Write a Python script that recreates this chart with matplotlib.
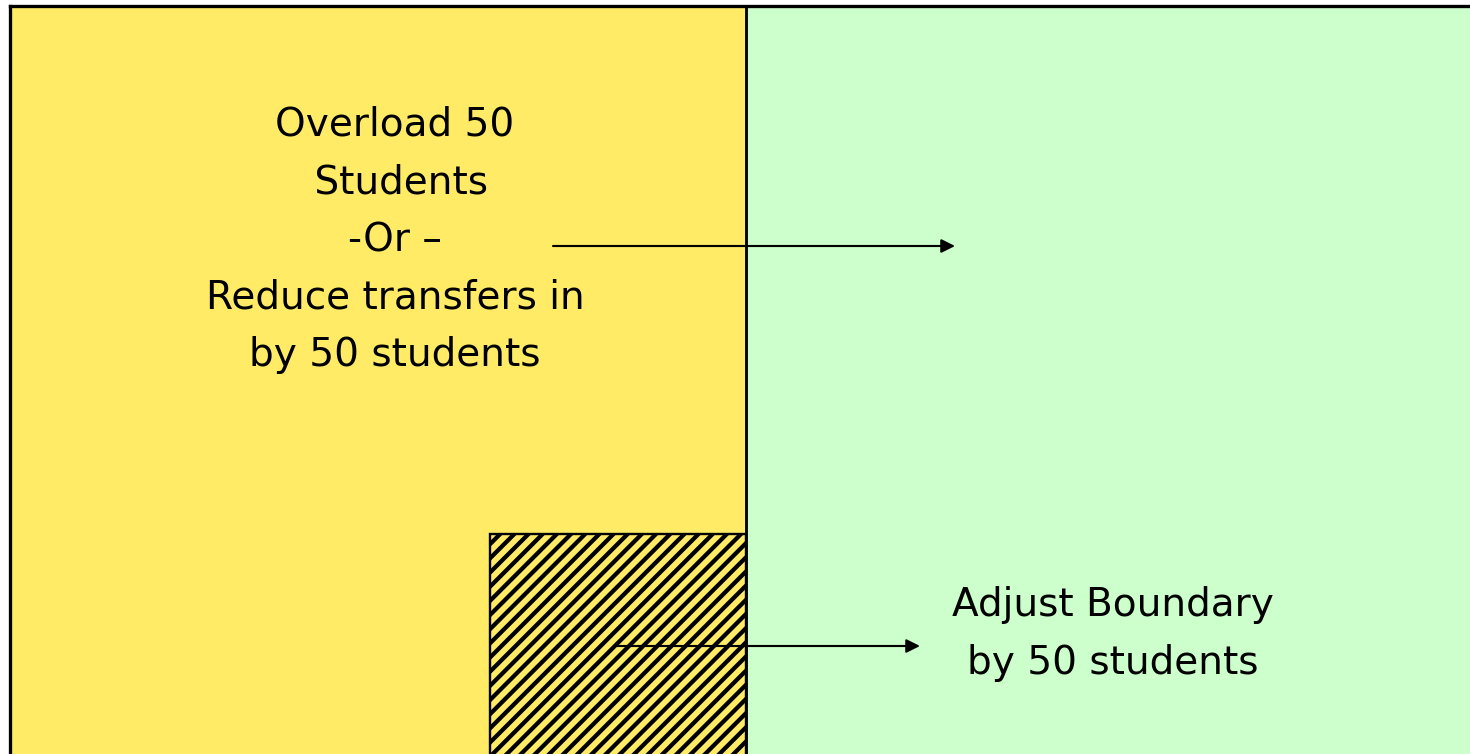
import matplotlib.pyplot as plt
from matplotlib.patches import Rectangle

# diagram content
left_lines = ['Overload 50', ' Students', '-Or \u2013', 'Reduce transfers in', 'by 50 students']
right_lines = ['Adjust Boundary', 'by 50 students']
zone_colors = ['#FFEB66', '#CCFFCC']

DPI = 170
W, H = 1470, 754
plt.rcParams['hatch.linewidth'] = 1.8
plt.rcParams['hatch.color'] = 'black'

fig = plt.figure(figsize=(W / DPI, H / DPI), dpi=DPI)
fig.patch.set_facecolor('white')
ax = fig.add_axes([0, 0, 1, 1])
ax.set_xlim(0, W)
ax.set_ylim(H, 0)
ax.axis('off')

# the two zones
ax.add_patch(Rectangle((10, 6), 736, 780, facecolor=zone_colors[0], lw=0))
ax.add_patch(Rectangle((746, 6), 800, 780, facecolor=zone_colors[1], lw=0))
ax.plot([10, 1500], [6, 6], color='black', lw=1.4)
ax.plot([10, 10], [6, 780], color='black', lw=1.4)
ax.plot([746, 746], [6, 780], color='black', lw=1.2)

# hatched part of the overloaded school
ax.add_patch(Rectangle((490, 534), 256, 250, facecolor=zone_colors[0],
                       edgecolor='black', lw=1.0, hatch='////'))

fs = 16.5
for i, s in enumerate(left_lines):
    ax.text(395, 125 + i * 57.5, s, ha='center', va='center', fontsize=fs, color='black')
for i, s in enumerate(right_lines):
    ax.text(1113, 605 + i * 57.5, s, ha='center', va='center', fontsize=fs, color='black')

arrow = dict(arrowstyle='-|>', color='black', lw=0.9, mutation_scale=12, shrinkA=0, shrinkB=0)
ax.annotate('', xy=(955, 246), xytext=(553, 246), arrowprops=arrow)
ax.annotate('', xy=(920, 646), xytext=(614, 646), arrowprops=arrow)

fig.savefig('out.png', dpi=DPI, facecolor=fig.get_facecolor())
